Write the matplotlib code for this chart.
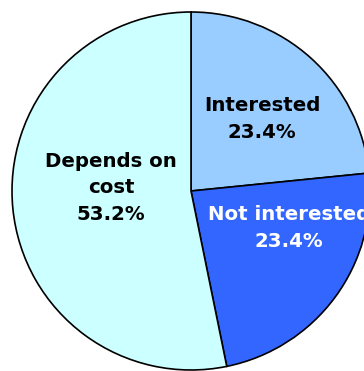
import matplotlib
matplotlib.use("Agg")
import matplotlib.pyplot as plt

# Survey response shares
categories = ["Interested", "Not interested", "Depends on cost"]
shares = [23.4, 23.4, 53.2]
label_lines = ["Interested", "Not interested", "Depends on\ncost"]
colors = ["#99CCFF", "#3366FF", "#CCFFFF"]
text_colors = ["black", "white", "black"]

W, H, DPI = 364, 371, 100
fig = plt.figure(figsize=(W / DPI, H / DPI), dpi=DPI)
ax = fig.add_axes([0, 0, 1, 1])

# pie centre and radius in pixels
cx, cy, R = 191, 191, 179

ax.pie(shares, colors=colors, startangle=90, counterclock=False,
       wedgeprops=dict(edgecolor="black", linewidth=1.2),
       radius=1.0, center=(0, 0))

ax.set_xlim((0 - cx) / R, (W - cx) / R)
ax.set_ylim((cy - H) / R, (cy - 0) / R)
ax.set_aspect("auto")
ax.axis("off")

# label anchor points (pixel coordinates of text centre)
label_pos = [(262, 119), (289, 228), (111, 188)]
for name, val, (px, py), tc in zip(label_lines, shares, label_pos, text_colors):
    x = (px - cx) / R
    y = (cy - py) / R
    ax.text(x, y, f"{name}\n{val:.1f}%", ha="center", va="center",
            color=tc, fontsize=14.2, fontweight="bold",
            family=["DejaVu Sans"], linespacing=1.5)

fig.savefig("out.png", dpi=DPI)
